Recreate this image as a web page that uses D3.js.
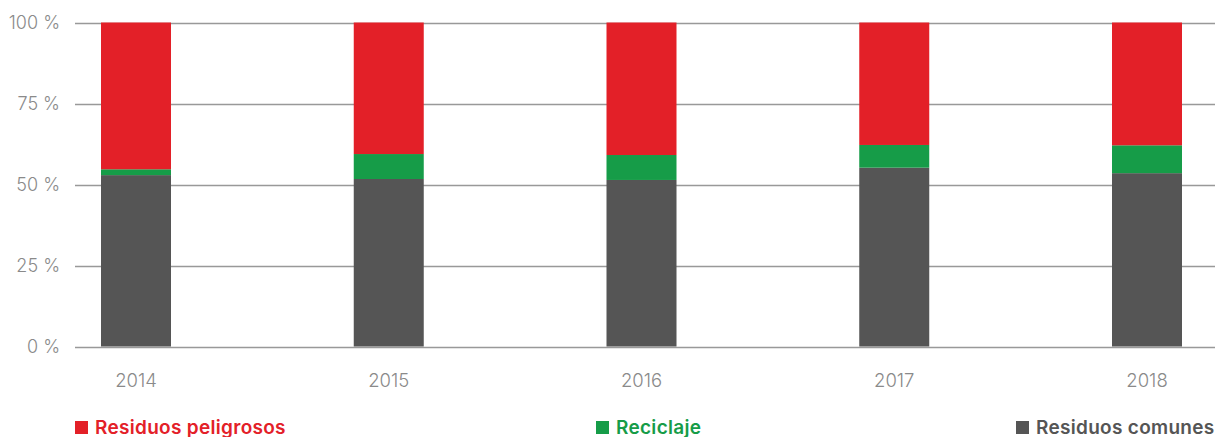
<!DOCTYPE html>
<html>
<head>
<meta charset="utf-8">
<script src="https://cdn.jsdelivr.net/npm/d3@7"></script>
<style>
  body { margin: 0; background: #fff; }
  svg { font-family: Inter, "Open Sans", sans-serif; }
</style>
</head>
<body>
<svg width="1221" height="437"></svg>
<script>
const years = ['2014', '2015', '2016', '2017', '2018'];
const comunes = [52.9, 51.7, 51.4, 55.2, 53.5];
const reciclaje = [1.8, 7.7, 7.7, 7.0, 8.6];
const peligrosos = [45.3, 40.6, 40.9, 37.8, 37.9];
const yTicks = [0, 25, 50, 75, 100];

const seriesNames = ['Residuos comunes', 'Reciclaje', 'Residuos peligrosos'];
const colors = ['#555555', '#169c48', '#e32028'];

let rows = years.map(function (y, i) {
    return { year: y, c: comunes[i], r: reciclaje[i], p: peligrosos[i] };
});

const svg = d3.select('svg');
const plotLeft = 75, plotRight = 1215, plotTop = 22.5, plotBottom = 346.5;

let x = d3.scalePoint()
    .domain(years)
    .range([136, 1147]);
let y = d3.scaleLinear()
    .domain([0, 100])
    .range([plotBottom, plotTop]);
const barW = 70;

// grid
svg.append('g')
    .selectAll('line')
    .data(yTicks)
    .enter()
    .append('line')
    .attr('x1', plotLeft)
    .attr('x2', plotRight)
    .attr('y1', d => Math.round(y(d)) + 0.5)
    .attr('y2', d => Math.round(y(d)) + 0.5)
    .attr('stroke', '#999')
    .attr('stroke-width', 1.3);

svg.append('g')
    .selectAll('text')
    .data(yTicks)
    .enter()
    .append('text')
    .attr('x', 60)
    .attr('y', d => y(d))
    .attr('dy', '0.36em')
    .attr('text-anchor', 'end')
    .attr('fill', '#8a8a8a')
    .attr('font-size', 18)
    .attr('font-weight', 300)
    .text(d => d + ' %');

let stack = d3.stack().keys(['c', 'r', 'p'])(rows);

svg.append('g')
    .selectAll('g')
    .data(stack)
    .enter()
    .append('g')
    .attr('fill', (d, i) => colors[i])
    .selectAll('rect')
    .data(d => d)
    .enter()
    .append('rect')
    .attr('x', d => x(d.data.year) - barW / 2)
    .attr('width', barW)
    .attr('y', d => y(d[1]))
    .attr('height', d => y(d[0]) - y(d[1]));

// x labels
svg.append('g')
    .selectAll('text')
    .data(years)
    .enter()
    .append('text')
    .attr('x', d => x(d))
    .attr('y', 387)
    .attr('text-anchor', 'middle')
    .attr('fill', '#8a8a8a')
    .attr('font-size', 18.5)
    .attr('font-weight', 300)
    .text(d => d);

// legend
const legend = [
    { name: seriesNames[2], color: colors[2], x: 75 },
    { name: seriesNames[1], color: colors[1], x: 596 },
    { name: seriesNames[0], color: colors[0], x: 1016 }
];
let lg = svg.append('g')
    .selectAll('g')
    .data(legend)
    .enter()
    .append('g')
    .attr('transform', d => 'translate(' + d.x + ',421)');
lg.append('rect')
    .attr('width', 13)
    .attr('height', 13)
    .attr('fill', d => d.color);
lg.append('text')
    .attr('x', 20)
    .attr('y', 12.5)
    .attr('fill', d => d.color)
    .attr('font-size', 19)
    .attr('font-weight', 600)
    .attr('letter-spacing', 0.3)
    .text(d => d.name);
</script>
</body>
</html>
